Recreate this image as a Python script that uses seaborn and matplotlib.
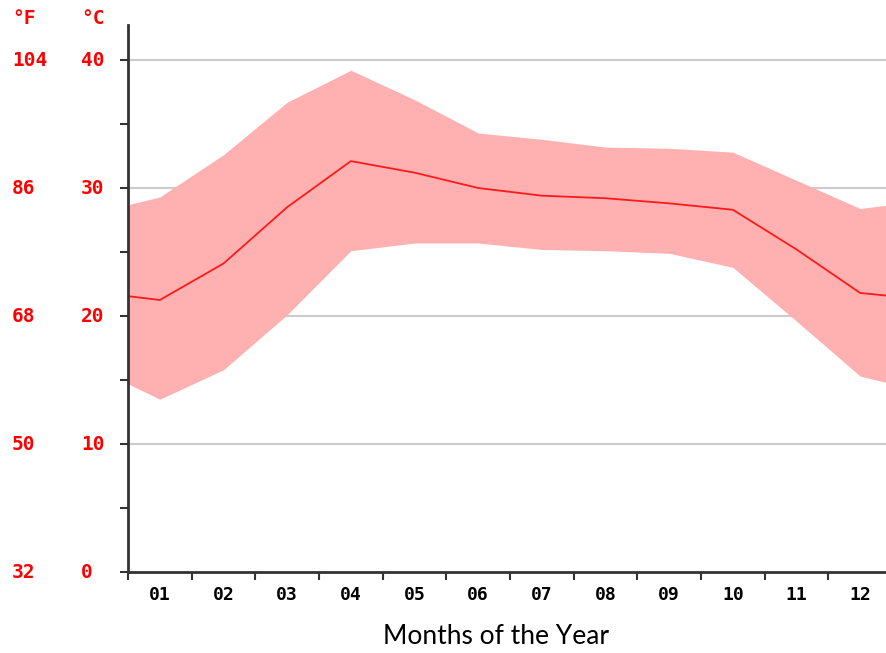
import matplotlib
matplotlib.use("Agg")
import matplotlib.pyplot as plt
import matplotlib.transforms as mtransforms
import numpy as np
import pandas as pd
import seaborn as sns

# ---- data ----
months = ["01", "02", "03", "04", "05", "06", "07", "08", "09", "10", "11", "12"]
mean_temp = [21.25, 24.1, 28.5, 32.1, 31.2, 30.0, 29.4, 29.2, 28.8, 28.3, 25.2, 21.8]
max_temp = [29.3, 32.6, 36.7, 39.2, 36.9, 34.3, 33.8, 33.2, 33.1, 32.8, 30.6, 28.4]
min_temp = [13.5, 15.8, 20.1, 25.1, 25.7, 25.7, 25.2, 25.1, 24.9, 23.8, 19.6, 15.3]
# values at the year boundary (left / right edge of the plot)
edge_mean = 21.55
edge_max = 28.7
edge_min = 14.7
celsius_ticks = [0, 10, 20, 30, 40]
fahrenheit_labels = ["32", "50", "68", "86", "104"]

sns.set_style("white")

pos = [0.5] + list(range(1, 13)) + [12.5]
df = pd.DataFrame({
    "pos": pos,
    "mean": [edge_mean] + mean_temp + [edge_mean],
    "max": [edge_max] + max_temp + [edge_max],
    "min": [edge_min] + min_temp + [edge_min],
})

W, H = 886, 653
fig = plt.figure(figsize=(W / 100, H / 100), dpi=100)
left_px, right_px, bottom_px, top_px = 128, 892, 572, 25
ax = fig.add_axes([left_px / W, (H - bottom_px) / H,
                   (right_px - left_px) / W, (bottom_px - top_px) / H])

ymax = (bottom_px - top_px) / 12.8
ax.set_xlim(0.5, 12.5)
ax.set_ylim(0, ymax)

for yv in celsius_ticks[1:]:
    ax.axhline(yv, color="#cccccc", lw=1.5, zorder=0)

ax.fill_between(df["pos"], df["min"], df["max"], color="#ffb0b0", lw=0, zorder=1)
sns.lineplot(data=df, x="pos", y="mean", ax=ax, color="#ff1a1a", lw=1.3, zorder=2)

# spines
for s in ["top", "right"]:
    ax.spines[s].set_visible(False)
for s in ["left", "bottom"]:
    ax.spines[s].set_color("#333333")
    ax.spines[s].set_linewidth(2)

ax.set_xticks(np.arange(0.5, 13, 1.0))
ax.set_xticklabels([])
ax.set_xticks(range(1, 13), minor=True)
ax.set_xticklabels(months, minor=True)
ax.tick_params(axis="x", which="major", direction="out", length=6, width=1.5,
               color="#333333", bottom=True)
ax.tick_params(axis="x", which="minor", length=0, pad=10, labelsize=13,
               labelcolor="black")
for t in ax.get_xticklabels(minor=True):
    t.set_fontfamily("DejaVu Sans Mono")
    t.set_fontweight("bold")

ax.set_yticks(celsius_ticks)
ax.set_yticklabels([])
ax.set_yticks(np.arange(5, 45, 10), minor=True)
ax.tick_params(axis="y", which="both", direction="out", length=6, width=1.5,
               color="#333333", left=True)

ax.set_xlabel("")
ax.set_ylabel("")

# y labels (two columns: Fahrenheit and Celsius)
tr = mtransforms.blended_transform_factory(fig.transFigure, ax.transData)
font = dict(family="DejaVu Sans Mono", weight="bold", color="#ff0000", size=14)
for c, f in zip(celsius_ticks, fahrenheit_labels):
    fig.text(12 / W, c, f, transform=tr, ha="left", va="center", **font)
    fig.text(81 / W, c, str(c), transform=tr, ha="left", va="center", **font)
fig.text(12 / W, 1 - 19 / H, "°F", ha="left", va="center", **font)
fig.text(81 / W, 1 - 19 / H, "°C", ha="left", va="center", **font)

fig.text(496 / W, 1 - 636 / H, "Months of the Year", ha="center", va="center",
         family="Lato", size=19, color="black")

fig.savefig("out.png", dpi=100)
